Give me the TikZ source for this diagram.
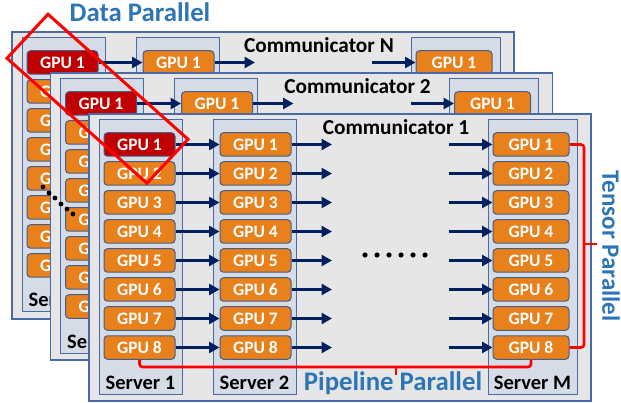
\documentclass[tikz,border=0pt]{standalone}
\usepackage{fontspec}
\setmainfont{Carlito}
\usetikzlibrary{arrows.meta}
\definecolor{panelfill}{RGB}{231,230,230}
\definecolor{panelborder}{RGB}{72,106,168}
\definecolor{serverfill}{RGB}{214,220,229}
\definecolor{gpuorange}{RGB}{232,128,28}
\definecolor{gpudark}{RGB}{192,0,0}
\definecolor{gpuborder}{RGB}{68,94,138}
\definecolor{navy}{RGB}{0,32,96}
\definecolor{labelblue}{RGB}{46,117,182}
\definecolor{brightred}{RGB}{255,0,0}
\tikzset{
  panel/.style={draw=panelborder, fill=panelfill, line width=1.2pt, inner sep=0pt},
  server/.style={draw=panelborder, fill=serverfill, line width=1pt, inner sep=0pt, minimum height=274pt},
  gpu/.style={draw=gpuborder, fill=gpuorange, rounded corners=3.5pt, line width=1pt, text=white,
    font=\fontsize{17.5}{18}\selectfont\bfseries, inner sep=0pt, minimum height=23.5pt},
  link/.style={draw=navy, line width=2.6pt, -{Triangle[length=10.5pt,width=11pt]}},
  srvlabel/.style={font=\fontsize{20.5}{21}\selectfont\bfseries, text=black, inner sep=0pt, anchor=base},
  commlabel/.style={font=\fontsize{21.3}{22}\selectfont\bfseries, text=black, inner sep=0pt, anchor=base},
  biglabel/.style={font=\fontsize{26.8}{27}\selectfont\bfseries, text=labelblue, inner sep=0pt},
  bracket/.style={draw=brightred, line width=2.6pt, rounded corners=3pt},
  redbox/.style={draw=brightred, line width=3pt, line join=miter},
}
% common part of a layer: panel, columns, first row, column of server 1
\newcommand\layerbase[4]{%
  \node[panel, minimum width=502pt, minimum height=287pt] (#1panel) at (340,257.5) {};
  \node[server, minimum width=83pt] (#1srvA) at (140.5,257) {};
  \node[server, minimum width=83pt] (#1srvB) at (254.5,257) {};
  \node[server, minimum width=89pt] (#1srvM) at (532.5,257) {};
  \node[srvlabel] (#1lblA) at (140.5,389) {Server 1};
  \node[commlabel] (#1comm) at (396,135) {Communicator #4};
  \foreach \i/\cc in {1/gpudark,2/gpuorange,3/gpuorange,4/gpuorange,5/gpuorange,6/gpuorange,7/gpuorange,8/gpuorange}{
    \node[gpu, fill=\cc, minimum width=71pt] (#1a\i) at (139.5,115.5+29*\i) {GPU \i};
  }
  \foreach \i in {#2}{
    \node[gpu, minimum width=71pt] (#1b\i) at (255.5,115.5+29*\i) {GPU \i};
    \node[gpu, minimum width=76pt] (#1c\i) at (531,115.5+29*\i) {GPU \i};
    \coordinate (#1p\i) at (332,115.5+29*\i);
    \coordinate (#1q\i) at (449,115.5+29*\i);
    \draw[link] (#1a\i.east) -- (#1b\i.west);
    \draw[link] (#1b\i.east) -- (#1p\i);
    \draw[link] (#1q\i) -- (#1c\i.west);
  }
}
\begin{document}
\begin{tikzpicture}[x=1pt,y=-1pt]
\useasboundingbox (0,0) rectangle (621,403);
% back layers (only visible parts)
\begin{scope}[shift={(-77,-82)}]
  \layerbase{N}{1}{}{N}
\end{scope}
\begin{scope}[shift={(-38.5,-41)}]
  \layerbase{B}{1}{}{2}
\end{scope}
% front layer
\layerbase{A}{1,...,8}{}{1}
\node[srvlabel] (AlblB) at (254.5,389) {Server 2};
\node[srvlabel] (AlblM) at (532.5,389) {Server M};
\foreach \k in {0,...,5}{\fill (365+12*\k,255) circle (2.6pt);}
% pipeline bracket
\coordinate (pipey) at (0,367);
\coordinate (pipetick) at (396,375);
\draw[bracket] (Aa8.south) -- (Aa8.south |- pipey) -- (Ac8.south |- pipey) -- (Ac8.south);
\draw[bracket, rounded corners=0pt] (pipetick |- pipey) -- (pipetick);
% tensor bracket
\coordinate (tensx) at (584,0);
\coordinate (tenstick) at (597,244);
\draw[bracket] (Ac1.east) -- (Ac1.east -| tensx) -- (Ac8.east -| tensx) -- (Ac8.east);
\draw[bracket, rounded corners=0pt] (tenstick -| tensx) -- (tenstick);
% labels
\node[biglabel, anchor=base] (dp) at (140,22) {Data Parallel};
\node[biglabel, anchor=base] (pp) at (393,390) {Pipeline Parallel};
\node[biglabel, font=\fontsize{25}{25}\selectfont\bfseries, rotate=-90] (tp) at (611,246) {Tensor Parallel};
% data parallel box
\draw[redbox] (48,14.25) -- (188,139.25) -- (147,183.25) -- (7,58.25) -- cycle;
% diagonal dots
\foreach \x/\y in {43/187,49/193,55/198,61/204,67/209,73/214}{\fill (\x,\y) circle (2.4pt);}
\end{tikzpicture}
\end{document}
